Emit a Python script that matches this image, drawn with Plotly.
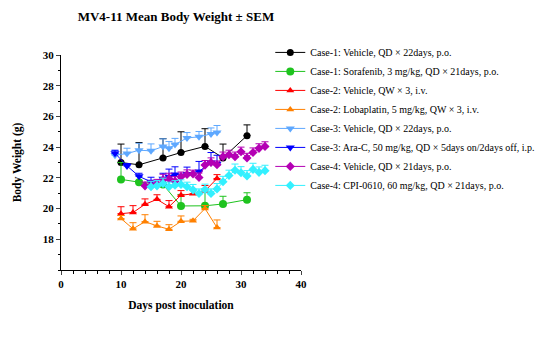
import plotly.graph_objects as go

# ---- data ----
names = [
    "Case-1: Vehicle, QD × 22days, p.o.",
    "Case-1: Sorafenib, 3 mg/kg, QD × 21days, p.o.",
    "Case-2: Vehicle, QW × 3, i.v.",
    "Case-2: Lobaplatin, 5 mg/kg, QW × 3, i.v.",
    "Case-3: Vehicle, QD × 22days, p.o.",
    "Case-3: Ara-C, 50 mg/kg, QD × 5days on/2days off, i.p.",
    "Case-4: Vehicle, QD × 21days, p.o.",
    "Case-4: CPI-0610, 60 mg/kg, QD × 21days, p.o.",
]

c1v_x = [10, 13, 17, 20, 24, 27, 31]
c1v_y = [23.0, 22.85, 23.3, 23.65, 24.05, 23.3, 24.75]
c1v_e = [1.2, 1.45, 1.25, 1.35, 1.15, 0.9, 0.7]

c1s_x = [10, 13, 17, 20, 24, 27, 31]
c1s_y = [21.9, 21.72, 21.57, 20.17, 20.18, 20.3, 20.58]
c1s_e = [1.1, 0.1, 0.1, 0.75, 1.1, 0.5, 0.45]

c2v_x = [10, 12, 14, 16, 18, 20, 22, 24, 26]
c2v_y = [19.67, 19.74, 20.28, 20.6, 20.12, 20.87, 20.96, 21.15, 21.96]
c2v_e = [0.45, 0.45, 0.35, 0.3, 0.4, 0.3, 0.25, 0.35, 0.25]

c2l_x = [10, 12, 14, 16, 18, 20, 22, 24, 26]
c2l_y = [19.35, 18.68, 19.15, 18.87, 18.65, 19.17, 19.2, 20.0, 18.76]
c2l_e = [0.2, 0.4, 0.45, 0.3, 0.3, 0.35, 0.1, 0.2, 0.5]

c3v_x = [9, 11, 13, 15, 17, 18, 19, 21, 23, 25, 26]
c3v_y = [23.48, 23.58, 23.8, 23.76, 24.04, 23.92, 24.17, 24.6, 24.67, 24.85, 24.96]
c3v_e = [0.3, 0.35, 0.45, 0.45, 0.5, 0.45, 0.4, 0.35, 0.35, 0.4, 0.45]

c3a_x = [9, 11, 13, 15, 17, 18, 19, 21, 23, 25, 26]
c3a_y = [23.6, 22.78, 22.1, 21.74, 21.95, 22.07, 22.22, 22.25, 22.42, 23.0, 22.92]
c3a_e = [0.2, 0.15, 0.2, 0.3, 0.35, 0.5, 0.5, 0.45, 0.65, 0.65, 0.55]

c4v_x = [14, 15, 16, 17, 18, 19, 20, 21, 22, 23, 24, 25, 26, 27, 28, 29, 30, 31, 32, 33, 34]
c4v_y = [21.48, 21.5, 21.6, 21.88, 21.95, 21.78, 22.08, 22.22, 22.25, 22.02, 22.83, 23.0, 22.85,
         23.38, 23.5, 23.38, 23.7, 23.3, 23.65, 23.92, 24.05]
c4v_e = [0.25, 0.3, 0.3, 0.35, 0.35, 0.3, 0.3, 0.3, 0.25, 0.3, 0.3, 0.3, 0.25,
         0.3, 0.3, 0.3, 0.3, 0.3, 0.3, 0.3, 0.3]

c4c_x = [15, 16, 17, 18, 19, 20, 21, 22, 23, 24, 25, 26, 27, 28, 29, 30, 31, 32, 33, 34]
c4c_y = [21.42, 21.48, 21.63, 21.42, 21.52, 21.57, 21.42, 21.22, 20.98, 21.24, 20.98, 21.28,
         21.75, 22.15, 22.5, 22.33, 22.12, 22.55, 22.36, 22.47]
c4c_e = [0.35, 0.35, 0.35, 0.3, 0.3, 0.3, 0.3, 0.35, 0.3, 0.35, 0.3, 0.35,
         0.35, 0.35, 0.4, 0.4, 0.35, 0.4, 0.35, 0.35]

xs = [c1v_x, c1s_x, c2v_x, c2l_x, c3v_x, c3a_x, c4v_x, c4c_x]
ys = [c1v_y, c1s_y, c2v_y, c2l_y, c3v_y, c3a_y, c4v_y, c4c_y]
es = [c1v_e, c1s_e, c2v_e, c2l_e, c3v_e, c3a_e, c4v_e, c4c_e]

colors = ["#000000", "#1ec31e", "#ff0000", "#ff8000", "#5ea8ff", "#0000ff", "#b400b4", "#33f0ff"]
symbols = ["circle", "circle", "triangle-up", "triangle-up", "triangle-down", "triangle-down",
           "diamond", "diamond"]
sizes = [7, 8, 7, 7, 8, 8, 7, 7]

x_ticks = [0, 10, 20, 30, 40]
y_ticks = [18, 20, 22, 24, 26, 28, 30]

FONT = "Liberation Serif"

fig = go.Figure()
for i in range(len(names)):
    fig.add_trace(go.Scatter(
        x=xs[i], y=ys[i], name=names[i], mode="lines+markers",
        line=dict(color=colors[i], width=1),
        marker=dict(color=colors[i], symbol=symbols[i], size=sizes[i], line=dict(width=0)),
        error_y=dict(type="data", array=es[i], arrayminus=[0] * len(es[i]), symmetric=False,
                     color=colors[i], thickness=1, width=3.5),
    ))

fig.update_layout(
    width=543, height=337,
    margin=dict(l=61, r=242, t=55, b=67, autoexpand=False),
    paper_bgcolor="white", plot_bgcolor="white",
    font=dict(family=FONT, color="black"),
    title=dict(text="<b>MV4-11 Mean Body Weight ± SEM</b>", x=0.324, xanchor="center",
               y=0.952, yanchor="middle", font=dict(size=13, family=FONT)),
    showlegend=True,
    legend=dict(x=0.872, y=0.326, xanchor="left", yanchor="bottom", font=dict(size=10, family=FONT),
                itemwidth=30, bgcolor="rgba(0,0,0,0)"),
    xaxis=dict(range=[0, 40], tickvals=x_ticks, ticks="outside", ticklen=4, tickwidth=1,
               showline=True, linecolor="black", linewidth=1, showgrid=False, zeroline=False,
               tickfont=dict(size=11, family=FONT, weight="bold"),
               minor=dict(dtick=2, tick0=0, ticks="outside", ticklen=2.5, tickcolor="black", showgrid=False),
               title=dict(text="<b>Days post inoculation</b>", font=dict(size=11.5, family=FONT), standoff=11)),
    yaxis=dict(range=[16, 30], tickvals=y_ticks, ticks="outside", ticklen=4, tickwidth=1,
               showline=True, linecolor="black", linewidth=1, showgrid=False, zeroline=False,
               tickfont=dict(size=11, family=FONT, weight="bold"),
               minor=dict(dtick=1, tick0=16, ticks="outside", ticklen=2.5, tickcolor="black", showgrid=False),
               title=dict(text="<b>Body Weight (g)</b>", font=dict(size=11.5, family=FONT), standoff=18)),
)

fig.write_html("out.html")
